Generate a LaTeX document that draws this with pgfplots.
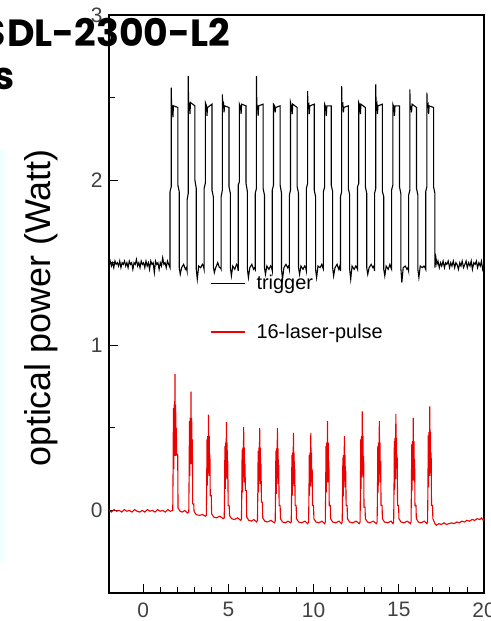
\documentclass[border=0pt]{standalone}
\usepackage{fontspec}
\setmainfont{Liberation Sans}
\newfontfamily\titlefont{Poppins}
\usepackage{pgfplots}
\pgfplotsset{compat=1.18}
\definecolor{pulsered}{HTML}{EE0000}

\begin{document}
\begin{tikzpicture}
% faint slide background at the left edge
\shade[left color=cyan!7, right color=white] (0bp,60bp) rectangle (8bp,470bp);
\begin{axis}[
  at={(109bp,28bp)}, anchor=south west,
  width=375bp, height=578bp, scale only axis,
  xmin=-2, xmax=20, ymin=-0.5, ymax=3,
  xtick={0,5,10,15,20}, ytick={0,1,2,3},
  minor xtick={1,2,3,4,6,7,8,9,11,12,13,14,16,17,18,19},
  minor ytick={0.5,1.5,2.5},
  tick align=inside, xtick pos=left, ytick pos=left,
  major tick length=9bp, minor tick length=6bp,
  axis line style={line width=1.2bp},
  tick style={black, line width=0.9bp},
  /pgf/number format/assume math mode=true,
  ticklabel style={font=\fontsize{21}{25}\selectfont, text=black!75},
  xticklabel style={yshift=-6bp},
  yticklabel style={xshift=-3bp},
  ylabel={optical power (Watt)},
  ylabel style={font=\fontsize{36}{40}\selectfont, at={(axis description cs:-0.155,0.493)}, anchor=base},
  legend style={at={(rel axis cs:0.27,0.552)}, anchor=north west, draw=none, fill=none,
    font=\fontsize{20}{24}\selectfont, row sep=31bp, column sep=10bp, inner sep=0pt,
    nodes={inner sep=1pt}},
  legend cell align=left,
  legend image code/.code={\draw[#1] (0bp,0bp) -- (34bp,0bp);},
]
% trigger signal
\addplot[black, line width=1.1bp] coordinates {
(-2.00,1.49)(-1.93,1.51)(-1.86,1.48)(-1.79,1.50)(-1.72,1.47)(-1.65,1.51)(-1.58,1.49)(-1.51,1.50)(-1.44,1.48)(-1.37,1.51)
(-1.30,1.47)(-1.23,1.50)(-1.16,1.49)(-1.09,1.51)(-1.02,1.48)(-0.95,1.50)(-0.88,1.47)(-0.81,1.51)(-0.74,1.49)(-0.67,1.50)
(-0.60,1.46)(-0.53,1.50)(-0.46,1.49)(-0.39,1.52)(-0.32,1.48)(-0.25,1.50)(-0.18,1.47)(-0.11,1.51)(-0.04,1.49)(0.03,1.50)
(0.10,1.47)(0.17,1.51)(0.24,1.48)(0.31,1.50)(0.38,1.46)(0.45,1.51)(0.52,1.49)(0.59,1.50)(0.66,1.44)(0.73,1.51)
(0.80,1.49)(0.87,1.50)(0.94,1.46)(1.01,1.50)(1.08,1.48)(1.15,1.53)(1.22,1.49)(1.29,1.50)(1.36,1.47)(1.43,1.51)(1.50,1.49)
(1.54,1.48)(1.58,1.47)(1.58,1.93)(1.65,1.96)(1.65,2.56)(1.67,2.46)(1.72,2.44)(1.75,2.38)(1.78,2.45)(2.04,2.44)(2.04,1.97)(2.12,1.93)(2.12,1.47)(2.18,1.43)(2.26,1.47)(2.38,1.49)(2.48,1.46)
(2.54,1.47)(2.58,1.45)(2.58,1.88)(2.65,1.92)(2.65,2.63)(2.67,2.45)(2.72,2.46)(2.75,2.40)(2.78,2.47)(3.04,2.45)(3.04,2.00)(3.12,1.95)(3.12,1.46)(3.18,1.40)(3.26,1.48)(3.38,1.47)(3.48,1.49)
(3.54,1.48)(3.58,1.46)(3.58,1.95)(3.65,1.98)(3.65,2.47)(3.72,2.45)(3.75,2.39)(3.78,2.44)(4.04,2.46)(4.04,1.94)(4.12,1.90)(4.12,1.48)(4.18,1.44)(4.26,1.47)(4.38,1.50)(4.48,1.47)
(4.54,1.47)(4.58,1.46)(4.58,1.90)(4.65,1.94)(4.65,2.52)(4.67,2.44)(4.72,2.46)(4.75,2.41)(4.78,2.45)(5.04,2.44)(5.04,1.96)(5.12,1.92)(5.12,1.47)(5.18,1.42)(5.26,1.48)(5.38,1.46)(5.48,1.49)
(5.54,1.48)(5.58,1.45)(5.58,1.97)(5.65,1.99)(5.65,2.46)(5.72,2.44)(5.75,2.40)(5.78,2.46)(6.04,2.45)(6.04,1.98)(6.12,1.93)(6.12,1.46)(6.18,1.41)(6.26,1.47)(6.38,1.49)(6.48,1.46)
(6.54,1.47)(6.58,1.46)(6.58,1.92)(6.65,1.95)(6.65,2.63)(6.67,2.46)(6.72,2.44)(6.75,2.39)(6.78,2.45)(7.04,2.46)(7.04,1.95)(7.12,1.91)(7.12,1.47)(7.18,1.43)(7.26,1.48)(7.38,1.46)(7.48,1.48)
(7.54,1.47)(7.58,1.45)(7.58,1.94)(7.65,1.97)(7.65,2.46)(7.72,2.45)(7.75,2.41)(7.78,2.44)(8.04,2.45)(8.04,1.97)(8.12,1.92)(8.12,1.46)(8.18,1.40)(8.26,1.47)(8.38,1.49)(8.48,1.47)
(8.54,1.48)(8.58,1.46)(8.58,1.91)(8.65,1.94)(8.65,2.47)(8.72,2.44)(8.75,2.40)(8.78,2.46)(9.04,2.44)(9.04,1.96)(9.12,1.92)(9.12,1.47)(9.18,1.43)(9.26,1.48)(9.38,1.46)(9.48,1.48)
(9.54,1.47)(9.58,1.45)(9.58,1.95)(9.65,1.98)(9.65,2.54)(9.67,2.45)(9.72,2.46)(9.75,2.40)(9.78,2.45)(10.04,2.46)(10.04,1.94)(10.12,1.90)(10.12,1.46)(10.18,1.41)(10.26,1.48)(10.38,1.47)(10.48,1.49)
(10.54,1.47)(10.58,1.46)(10.58,1.93)(10.65,1.96)(10.65,2.46)(10.72,2.44)(10.75,2.39)(10.78,2.45)(11.04,2.45)(11.04,1.97)(11.12,1.93)(11.12,1.47)(11.18,1.42)(11.26,1.47)(11.38,1.49)(11.48,1.46)
(11.54,1.48)(11.58,1.45)(11.58,1.90)(11.65,1.93)(11.65,2.57)(11.67,2.45)(11.72,2.46)(11.75,2.41)(11.78,2.44)(12.04,2.45)(12.04,1.95)(12.12,1.91)(12.12,1.46)(12.18,1.40)(12.26,1.48)(12.38,1.46)(12.48,1.48)
(12.54,1.47)(12.58,1.46)(12.58,1.96)(12.65,1.98)(12.65,2.47)(12.72,2.45)(12.75,2.40)(12.78,2.46)(13.04,2.44)(13.04,1.96)(13.12,1.92)(13.12,1.47)(13.18,1.43)(13.26,1.47)(13.38,1.49)(13.48,1.47)
(13.54,1.48)(13.58,1.45)(13.58,1.92)(13.65,1.95)(13.65,2.58)(13.67,2.44)(13.72,2.46)(13.75,2.40)(13.78,2.45)(14.04,2.46)(14.04,1.93)(14.12,1.90)(14.12,1.46)(14.18,1.42)(14.26,1.48)(14.38,1.46)(14.48,1.49)
(14.54,1.47)(14.58,1.46)(14.58,1.94)(14.65,1.97)(14.65,2.46)(14.72,2.44)(14.75,2.39)(14.78,2.45)(15.04,2.45)(15.04,1.96)(15.12,1.92)(15.12,1.47)(15.18,1.38)(15.26,1.47)(15.38,1.48)(15.48,1.46)
(15.54,1.47)(15.58,1.45)(15.58,1.91)(15.65,1.94)(15.65,2.55)(15.67,2.45)(15.72,2.44)(15.75,2.41)(15.78,2.46)(16.04,2.44)(16.04,1.95)(16.12,1.91)(16.12,1.46)(16.18,1.41)(16.26,1.48)(16.38,1.47)(16.48,1.48)
(16.54,1.47)(16.58,1.46)(16.58,1.93)(16.65,1.96)(16.65,2.53)(16.67,2.45)(16.72,2.46)(16.75,2.40)(16.78,2.45)(17.04,2.44)(17.04,1.96)(17.12,1.92)(17.12,1.47)
(17.18,1.53)(17.24,1.49)(17.30,1.51)(17.38,1.47)(17.45,1.50)(17.52,1.48)(17.60,1.51)(17.68,1.47)(17.75,1.50)(17.82,1.49)
(17.90,1.51)(17.98,1.47)(18.05,1.50)(18.12,1.48)(18.20,1.51)(18.28,1.47)(18.35,1.50)(18.42,1.49)(18.50,1.46)(18.58,1.50)
(18.65,1.48)(18.72,1.51)(18.80,1.47)(18.88,1.49)(18.95,1.51)(19.02,1.47)(19.10,1.50)(19.18,1.48)(19.25,1.51)(19.32,1.46)
(19.40,1.50)(19.48,1.49)(19.55,1.51)(19.62,1.47)(19.70,1.50)(19.78,1.48)(19.85,1.51)(19.92,1.46)(20.00,1.49)
};
\addlegendentry{trigger}
% laser pulses
\addplot[pulsered, line width=1.1bp] coordinates {
(-2.00,0.000)(-1.85,-0.010)(-1.70,0.005)(-1.55,-0.005)(-1.40,0.000)(-1.25,-0.010)(-1.10,0.005)(-0.95,-0.005)(-0.80,0.000)
(-0.65,-0.010)(-0.50,0.005)(-0.35,-0.005)(-0.20,-0.010)(-0.05,0.000)(0.10,-0.010)(0.25,0.005)(0.40,-0.005)(0.55,0.000)
(0.70,-0.010)(0.85,0.005)(1.00,-0.005)(1.15,0.000)(1.30,-0.010)(1.45,0.005)(1.60,-0.005)
(1.74,0)(1.76,0.25)(1.78,0.62)(1.80,0.25)(1.82,0.64)(1.84,0.33)(1.86,0.66)(1.87,0.825)(1.89,0.45)(1.91,0.64)(1.93,0.33)(1.95,0.50)(1.97,0.34)(2.03,0.34)(2.05,0.015)(2.17,-0.005)
(2.30,-0.010)(2.45,0.000)(2.60,-0.015)
(2.68,-0.01)(2.70,0.21)(2.72,0.54)(2.74,0.21)(2.76,0.56)(2.78,0.28)(2.80,0.57)(2.81,0.72)(2.83,0.39)(2.85,0.56)(2.87,0.28)(2.89,0.43)(2.91,0.04)(2.97,0.04)(2.99,-0.005)(3.11,-0.025)
(3.30,-0.030)(3.50,-0.025)(3.65,-0.035)
(3.71,-0.03)(3.73,0.15)(3.75,0.43)(3.77,0.15)(3.79,0.45)(3.81,0.21)(3.83,0.46)(3.84,0.58)(3.86,0.31)(3.88,0.45)(3.90,0.21)(3.92,0.34)(3.94,0.09)(4.00,0.09)(4.02,-0.02)(4.14,-0.04)
(4.30,-0.045)(4.50,-0.035)(4.70,-0.050)
(4.76,-0.045)(4.78,0.13)(4.80,0.39)(4.82,0.13)(4.84,0.41)(4.86,0.19)(4.88,0.42)(4.89,0.535)(4.91,0.27)(4.93,0.41)(4.95,0.19)(4.97,0.30)(4.99,0.03)(5.05,0.03)(5.07,-0.03)(5.19,-0.05)
(5.35,-0.055)(5.55,-0.045)(5.72,-0.060)
(5.77,-0.055)(5.79,0.11)(5.81,0.365)(5.83,0.11)(5.85,0.38)(5.87,0.17)(5.89,0.39)(5.90,0.505)(5.92,0.25)(5.94,0.38)(5.96,0.17)(5.98,0.28)(6.00,0.12)(6.06,0.12)(6.08,-0.04)(6.20,-0.06)
(6.35,-0.065)(6.50,-0.055)(6.66,-0.070)
(6.71,-0.06)(6.73,0.11)(6.75,0.36)(6.77,0.11)(6.79,0.38)(6.81,0.16)(6.83,0.39)(6.84,0.50)(6.86,0.25)(6.88,0.38)(6.90,0.16)(6.92,0.28)(6.94,0.05)(7.00,0.05)(7.02,-0.045)(7.14,-0.065)
(7.30,-0.070)(7.50,-0.060)(7.70,-0.075)
(7.75,-0.065)(7.77,0.10)(7.79,0.36)(7.81,0.10)(7.83,0.375)(7.85,0.16)(7.87,0.39)(7.88,0.50)(7.90,0.245)(7.92,0.375)(7.94,0.16)(7.96,0.275)(7.98,0.03)(8.04,0.03)(8.06,-0.05)(8.18,-0.07)
(8.35,-0.075)(8.50,-0.065)(8.65,-0.075)
(8.69,-0.07)(8.71,0.09)(8.73,0.335)(8.75,0.09)(8.77,0.35)(8.79,0.145)(8.81,0.36)(8.82,0.47)(8.84,0.23)(8.86,0.35)(8.88,0.145)(8.90,0.25)(8.92,0.03)(8.98,0.03)(9.00,-0.05)(9.12,-0.07)
(9.30,-0.075)(9.50,-0.065)(9.65,-0.080)
(9.71,-0.07)(9.73,0.09)(9.75,0.335)(9.77,0.09)(9.79,0.35)(9.81,0.145)(9.83,0.36)(9.84,0.47)(9.86,0.23)(9.88,0.35)(9.90,0.145)(9.92,0.25)(9.94,0.03)(10.00,0.03)(10.02,-0.05)(10.14,-0.07)
(10.30,-0.075)(10.50,-0.065)(10.65,-0.080)
(10.69,-0.07)(10.71,0.11)(10.73,0.39)(10.75,0.11)(10.77,0.41)(10.79,0.17)(10.81,0.42)(10.82,0.54)(10.84,0.27)(10.86,0.41)(10.88,0.17)(10.90,0.30)(10.92,0.03)(10.98,0.03)(11.00,-0.05)(11.12,-0.07)
(11.30,-0.075)(11.50,-0.065)(11.64,-0.080)
(11.68,-0.07)(11.70,0.085)(11.72,0.32)(11.74,0.085)(11.76,0.335)(11.78,0.14)(11.80,0.345)(11.81,0.45)(11.83,0.215)(11.85,0.335)(11.87,0.14)(11.89,0.24)(11.91,0.03)(11.97,0.03)(11.99,-0.05)(12.11,-0.07)
(12.30,-0.075)(12.50,-0.065)(12.68,-0.080)
(12.73,-0.07)(12.75,0.13)(12.77,0.43)(12.79,0.13)(12.81,0.45)(12.83,0.20)(12.85,0.47)(12.86,0.60)(12.88,0.30)(12.90,0.45)(12.92,0.20)(12.94,0.33)(12.96,0.02)(13.02,0.02)(13.04,-0.05)(13.16,-0.07)
(13.30,-0.075)(13.50,-0.065)(13.69,-0.080)
(13.73,-0.07)(13.75,0.11)(13.77,0.39)(13.79,0.11)(13.81,0.41)(13.83,0.17)(13.85,0.42)(13.86,0.54)(13.88,0.27)(13.90,0.41)(13.92,0.17)(13.94,0.30)(13.96,0.03)(14.02,0.03)(14.04,-0.05)(14.16,-0.07)
(14.35,-0.075)(14.55,-0.065)(14.66,-0.080)
(14.70,-0.07)(14.72,0.125)(14.74,0.42)(14.76,0.125)(14.78,0.44)(14.80,0.19)(14.82,0.455)(14.83,0.585)(14.85,0.29)(14.87,0.44)(14.89,0.19)(14.91,0.32)(14.93,0.03)(14.99,0.03)(15.01,-0.05)(15.13,-0.07)
(15.30,-0.075)(15.50,-0.065)(15.68,-0.080)
(15.72,-0.07)(15.74,0.12)(15.76,0.40)(15.78,0.12)(15.80,0.42)(15.82,0.18)(15.84,0.43)(15.85,0.56)(15.87,0.28)(15.89,0.42)(15.91,0.18)(15.93,0.31)(15.95,0.03)(16.01,0.03)(16.03,-0.05)(16.15,-0.07)
(16.30,-0.075)(16.50,-0.065)(16.65,-0.080)
(16.69,-0.07)(16.71,0.14)(16.73,0.455)(16.75,0.14)(16.77,0.475)(16.79,0.21)(16.81,0.49)(16.82,0.63)(16.84,0.315)(16.86,0.475)(16.88,0.21)(16.90,0.35)(16.92,0.03)(16.98,0.03)(17.00,-0.05)(17.12,-0.08)
(17.20,-0.090)(17.35,-0.080)(17.50,-0.085)(17.65,-0.075)(17.80,-0.085)(17.95,-0.080)(18.10,-0.075)(18.25,-0.080)(18.40,-0.070)
(18.55,-0.075)(18.70,-0.065)(18.85,-0.070)(19.00,-0.060)(19.15,-0.065)(19.30,-0.055)(19.45,-0.060)(19.60,-0.050)(19.75,-0.055)
(19.85,-0.045)(19.95,-0.060)(20.00,-0.050)
};
\addlegendentry{16-laser-pulse}
\end{axis}
% slide title, cut off at the left edge
\node[anchor=base west, inner sep=0pt, font=\titlefont\bfseries\fontsize{38}{42}\selectfont]
  at (7bp,574bp) {DL-2300-L2};
\node[anchor=base east, inner sep=0pt, font=\titlefont\bfseries\fontsize{38}{42}\selectfont]
  at (6bp,574bp) {S};
\node[anchor=base east, inner sep=0pt, font=\titlefont\bfseries\fontsize{38}{42}\selectfont]
  at (15bp,531bp) {s};
\pgfresetboundingbox
\path[use as bounding box] (0,0) rectangle (491bp,621bp);
\end{tikzpicture}
\end{document}
